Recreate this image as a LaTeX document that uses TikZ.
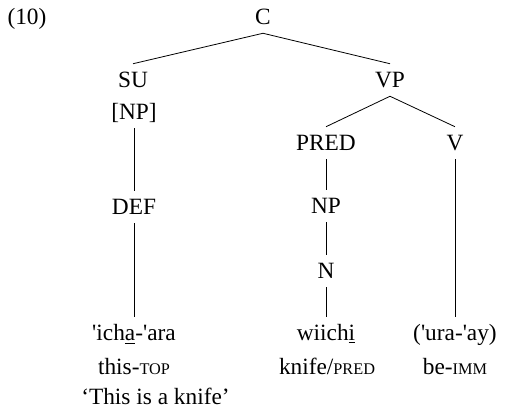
\documentclass[tikz,border=0pt]{standalone}
\usepackage{fontspec}
\setmainfont{Liberation Serif}
% upright straight tick for stress marks (no curly-quote mapping)
\newfontfamily\tickfont{Liberation Serif}[Ligatures=TeXOff]
\newcommand{\str}{{\tickfont\symbol{"27}}}
% small capitals for gloss abbreviations
\newcommand{\glabbr}[1]{{\fontsize{12.2}{13}\selectfont #1}}
\begin{document}
\begin{tikzpicture}[x=0.75pt,y=-0.75pt,
  every node/.style={font=\fontsize{17.5}{20}\selectfont},
  cat/.style={inner xsep=2pt,inner ysep=6.2pt,text height=11.6pt,text depth=0pt},
  txt/.style={inner sep=0pt,text height=11.6pt,text depth=0pt},
  branch/.style={line width=0.6pt}]
\useasboundingbox (0,0) rectangle (507,410);
% example number
\node[txt] (ex) at (27,17) {(10)};
% tree categories
\node[cat] (C)    at (263,17)  {C};
\node[cat] (SU)   at (133,80)  {SU};
\node[cat] (NPsu) at (134,112) {[NP]};
\node[cat] (VP)   at (390,80)  {VP};
\node[cat] (PRED) at (326,143) {PRED};
\node[cat] (V)    at (455,143) {V};
\node[cat] (DEF)  at (134,207) {DEF};
\node[cat] (NP)   at (326,206) {NP};
\node[cat] (N)    at (326,271) {N};
% words, glosses and translation
\node[cat] (w1) at (134,333) {\str ich\underline{a}-\str ara};
\node[cat] (w2) at (326,333) {wiich\underline{i}};
\node[cat] (w3) at (455,333) {(\str ura-\str ay)};
\node[txt] (g1) at (134,367) {this-\glabbr{TOP}};
\node[txt] (g2) at (327,367) {knife/\glabbr{PRED}};
\node[txt] (g3) at (455,367) {be-\glabbr{IMM}};
\node[txt,anchor=west] (tr) at (81,397) {‘This is a knife’};
% branches
\draw[branch] (C.south) -- (SU.north);
\draw[branch] (C.south) -- (VP.north);
\draw[branch] (VP.south) -- (PRED.north);
\draw[branch] (VP.south) -- (V.north);
\draw[branch] (NPsu.south) -- (DEF.north);
\draw[branch] (DEF.south) -- (w1.north);
\draw[branch] (PRED.south) -- (NP.north);
\draw[branch] (NP.south) -- (N.north);
\draw[branch] (N.south) -- (w2.north);
\draw[branch] (V.south) -- (w3.north);
\end{tikzpicture}
\end{document}
